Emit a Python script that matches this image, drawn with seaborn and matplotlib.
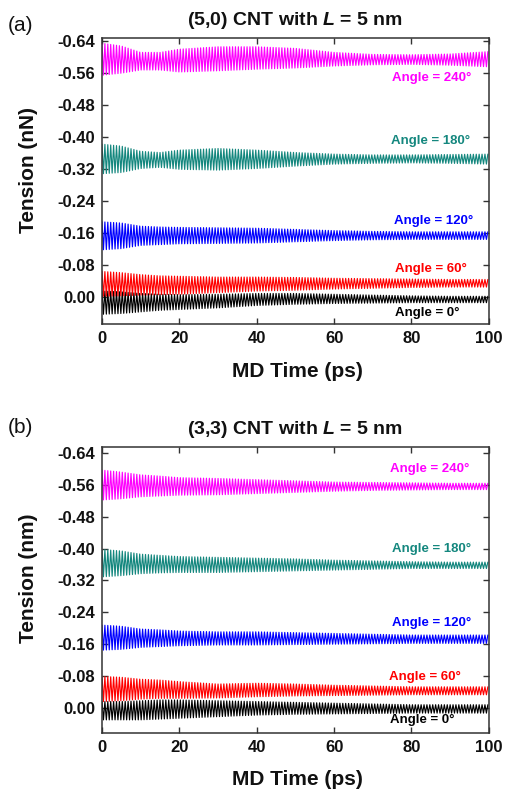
import numpy as np
import pandas as pd
import matplotlib
matplotlib.use("Agg")
import matplotlib.pyplot as plt
import seaborn as sns

# ---------------------------------------------------------------
# Tension oscillation envelopes (nN), read at these MD times (ps)
# "top" = most negative swing, "bot" = least negative swing
# ---------------------------------------------------------------
env_time = [0, 5, 10, 15, 20, 30, 40, 50, 60, 70, 80, 90, 100]
angles = ["240", "180", "120", "60", "0"]

# (5,0) CNT
a240_top = [-0.635, -0.628, -0.612, -0.612, -0.620, -0.626, -0.626, -0.622, -0.612, -0.607, -0.606, -0.608, -0.614]
a240_bot = [-0.555, -0.560, -0.568, -0.568, -0.563, -0.566, -0.570, -0.573, -0.578, -0.581, -0.582, -0.580, -0.576]
a180_top = [-0.383, -0.378, -0.365, -0.362, -0.368, -0.372, -0.368, -0.362, -0.358, -0.356, -0.356, -0.357, -0.358]
a180_bot = [-0.309, -0.312, -0.322, -0.325, -0.320, -0.318, -0.322, -0.328, -0.333, -0.335, -0.336, -0.335, -0.333]
a120_top = [-0.189, -0.186, -0.178, -0.176, -0.175, -0.174, -0.173, -0.170, -0.167, -0.165, -0.164, -0.164, -0.164]
a120_bot = [-0.119, -0.122, -0.130, -0.132, -0.134, -0.135, -0.136, -0.139, -0.142, -0.144, -0.145, -0.145, -0.145]
a060_top = [-0.065, -0.062, -0.057, -0.054, -0.053, -0.051, -0.051, -0.050, -0.048, -0.047, -0.046, -0.045, -0.045]
a060_bot = [-0.003, -0.004, -0.006, -0.007, -0.008, -0.012, -0.016, -0.018, -0.021, -0.023, -0.025, -0.026, -0.026]
a000_top = [-0.016, -0.014, -0.010, -0.008, -0.007, -0.008, -0.010, -0.010, -0.008, -0.006, -0.004, -0.003, -0.003]
a000_bot = [0.042, 0.040, 0.036, 0.032, 0.030, 0.026, 0.020, 0.017, 0.015, 0.014, 0.013, 0.013, 0.013]

# (3,3) CNT
b240_top = [-0.597, -0.592, -0.585, -0.582, -0.578, -0.576, -0.573, -0.570, -0.567, -0.566, -0.565, -0.564, -0.564]
b240_bot = [-0.522, -0.525, -0.530, -0.532, -0.534, -0.535, -0.538, -0.541, -0.544, -0.546, -0.547, -0.548, -0.548]
b180_top = [-0.398, -0.394, -0.386, -0.383, -0.380, -0.378, -0.376, -0.374, -0.371, -0.369, -0.367, -0.366, -0.366]
b180_bot = [-0.329, -0.332, -0.337, -0.339, -0.340, -0.340, -0.342, -0.344, -0.346, -0.348, -0.350, -0.350, -0.350]
b120_top = [-0.208, -0.205, -0.198, -0.196, -0.193, -0.191, -0.191, -0.189, -0.187, -0.185, -0.183, -0.183, -0.183]
b120_bot = [-0.145, -0.147, -0.152, -0.154, -0.156, -0.158, -0.158, -0.159, -0.160, -0.161, -0.162, -0.162, -0.162]
b060_top = [-0.079, -0.077, -0.072, -0.070, -0.066, -0.060, -0.062, -0.060, -0.057, -0.055, -0.053, -0.053, -0.053]
b060_bot = [-0.016, -0.018, -0.022, -0.024, -0.024, -0.025, -0.028, -0.030, -0.031, -0.032, -0.033, -0.033, -0.033]
b000_top = [-0.016, -0.016, -0.018, -0.020, -0.020, -0.018, -0.016, -0.014, -0.012, -0.010, -0.008, -0.008, -0.008]
b000_bot = [0.030, 0.030, 0.030, 0.028, 0.026, 0.022, 0.018, 0.016, 0.015, 0.014, 0.013, 0.013, 0.013]

osc_period = 0.75  # ps, one full swing

titles = ["(5,0) CNT with $\\mathit{L}$ = 5 nm", "(3,3) CNT with $\\mathit{L}$ = 5 nm"]
panel_tags = ["(a)", "(b)"]
ylabels = ["Tension (nN)", "Tension (nm)"]
xlabel = "MD Time (ps)"
xticks = [0, 20, 40, 60, 80, 100]
yticks = [-0.64, -0.56, -0.48, -0.40, -0.32, -0.24, -0.16, -0.08, 0.00]
ytick_labels = ["-0.64", "-0.56", "-0.48", "-0.40", "-0.32", "-0.24", "-0.16", "-0.08", "0.00"]

palette = {"240": "#ff00ff", "180": "#14877e", "120": "#0000ff", "60": "#ff0000", "0": "#000000"}

envelopes = [
    {"240": (a240_top, a240_bot), "180": (a180_top, a180_bot), "120": (a120_top, a120_bot),
     "60": (a060_top, a060_bot), "0": (a000_top, a000_bot)},
    {"240": (b240_top, b240_bot), "180": (b180_top, b180_bot), "120": (b120_top, b120_bot),
     "60": (b060_top, b060_bot), "0": (b000_top, b000_bot)},
]

# label anchor (right edge x in ps, centre y in nN)
label_pos = [
    {"240": (95.6, -0.549), "180": (95.1, -0.390), "120": (95.9, -0.192), "60": (94.2, -0.072), "0": (92.5, 0.038)},
    {"240": (95.1, -0.601), "180": (95.5, -0.400), "120": (95.5, -0.212), "60": (92.9, -0.078), "0": (91.2, 0.030)},
]
ylims = [(0.067, -0.648), (0.063, -0.655)]


def zigzag(top, bot):
    """Alternate between the two swing envelopes every half period."""
    t = np.arange(0, 100 + 1e-9, osc_period / 2)
    hi = np.interp(t, env_time, top)
    lo = np.interp(t, env_time, bot)
    vals = np.where(np.arange(len(t)) % 2 == 0, hi, lo)
    return t, vals


sns.set_theme(style="ticks")
plt.rcParams["font.family"] = ["Liberation Sans", "DejaVu Sans"]
plt.rcParams["mathtext.fontset"] = "custom"
plt.rcParams["mathtext.it"] = "Liberation Sans:bold:italic"
plt.rcParams["mathtext.rm"] = "Liberation Sans:bold"
plt.rcParams["text.color"] = "#111111"
plt.rcParams["axes.labelcolor"] = "#111111"
plt.rcParams["xtick.labelcolor"] = "#111111"
plt.rcParams["ytick.labelcolor"] = "#111111"

fig = plt.figure(figsize=(5.11, 7.91), dpi=100)
axes = [fig.add_axes([0.1996, 0.590, 0.757, 0.362]),
        fig.add_axes([0.1996, 0.0733, 0.757, 0.3616])]

draw_order = ["0", "60", "120", "180", "240"]

for i, ax in enumerate(axes):
    frames = []
    for ang in draw_order:
        top, bot = envelopes[i][ang]
        t, v = zigzag(top, bot)
        frames.append(pd.DataFrame({"time": t, "tension": v, "angle": ang}))
    df = pd.concat(frames, ignore_index=True)
    sns.lineplot(data=df, x="time", y="tension", hue="angle", hue_order=draw_order,
                 palette=palette, sort=False, estimator=None, lw=0.85, legend=False, ax=ax)

    for ang in angles:
        x, y = label_pos[i][ang]
        ax.text(x, y, f"Angle = {ang}°", color=palette[ang], ha="right", va="center",
                fontsize=9.5, fontweight="bold")

    ax.set_xlim(0, 100)
    ax.set_ylim(*ylims[i])
    ax.set_xticks(xticks)
    ax.set_xticklabels([str(x) for x in xticks], fontsize=12, fontweight="bold")
    ax.set_yticks(yticks)
    ax.set_yticklabels(ytick_labels, fontsize=12, fontweight="bold")
    ax.tick_params(direction="in", length=4.5, width=1, top=True, right=True,
                   color="#333333", pad=5)
    for sp in ax.spines.values():
        sp.set_linewidth(1.1)
        sp.set_color("#333333")
        sp.set_visible(True)

    ax.set_xlabel(xlabel, fontsize=15, fontweight="bold")
    ax.set_ylabel(ylabels[i], fontsize=15, fontweight="bold")
    ax.yaxis.set_label_coords(-0.165, 0.54)
    ax.xaxis.set_label_coords(0.506, -0.13)
    ax.set_title(titles[i], fontsize=14, fontweight="bold", pad=9)

fig.text(0.016, 0.968, panel_tags[0], fontsize=15, ha="left", va="center")
fig.text(0.016, 0.459, panel_tags[1], fontsize=15, ha="left", va="center")

fig.savefig("out.png", dpi=100)
